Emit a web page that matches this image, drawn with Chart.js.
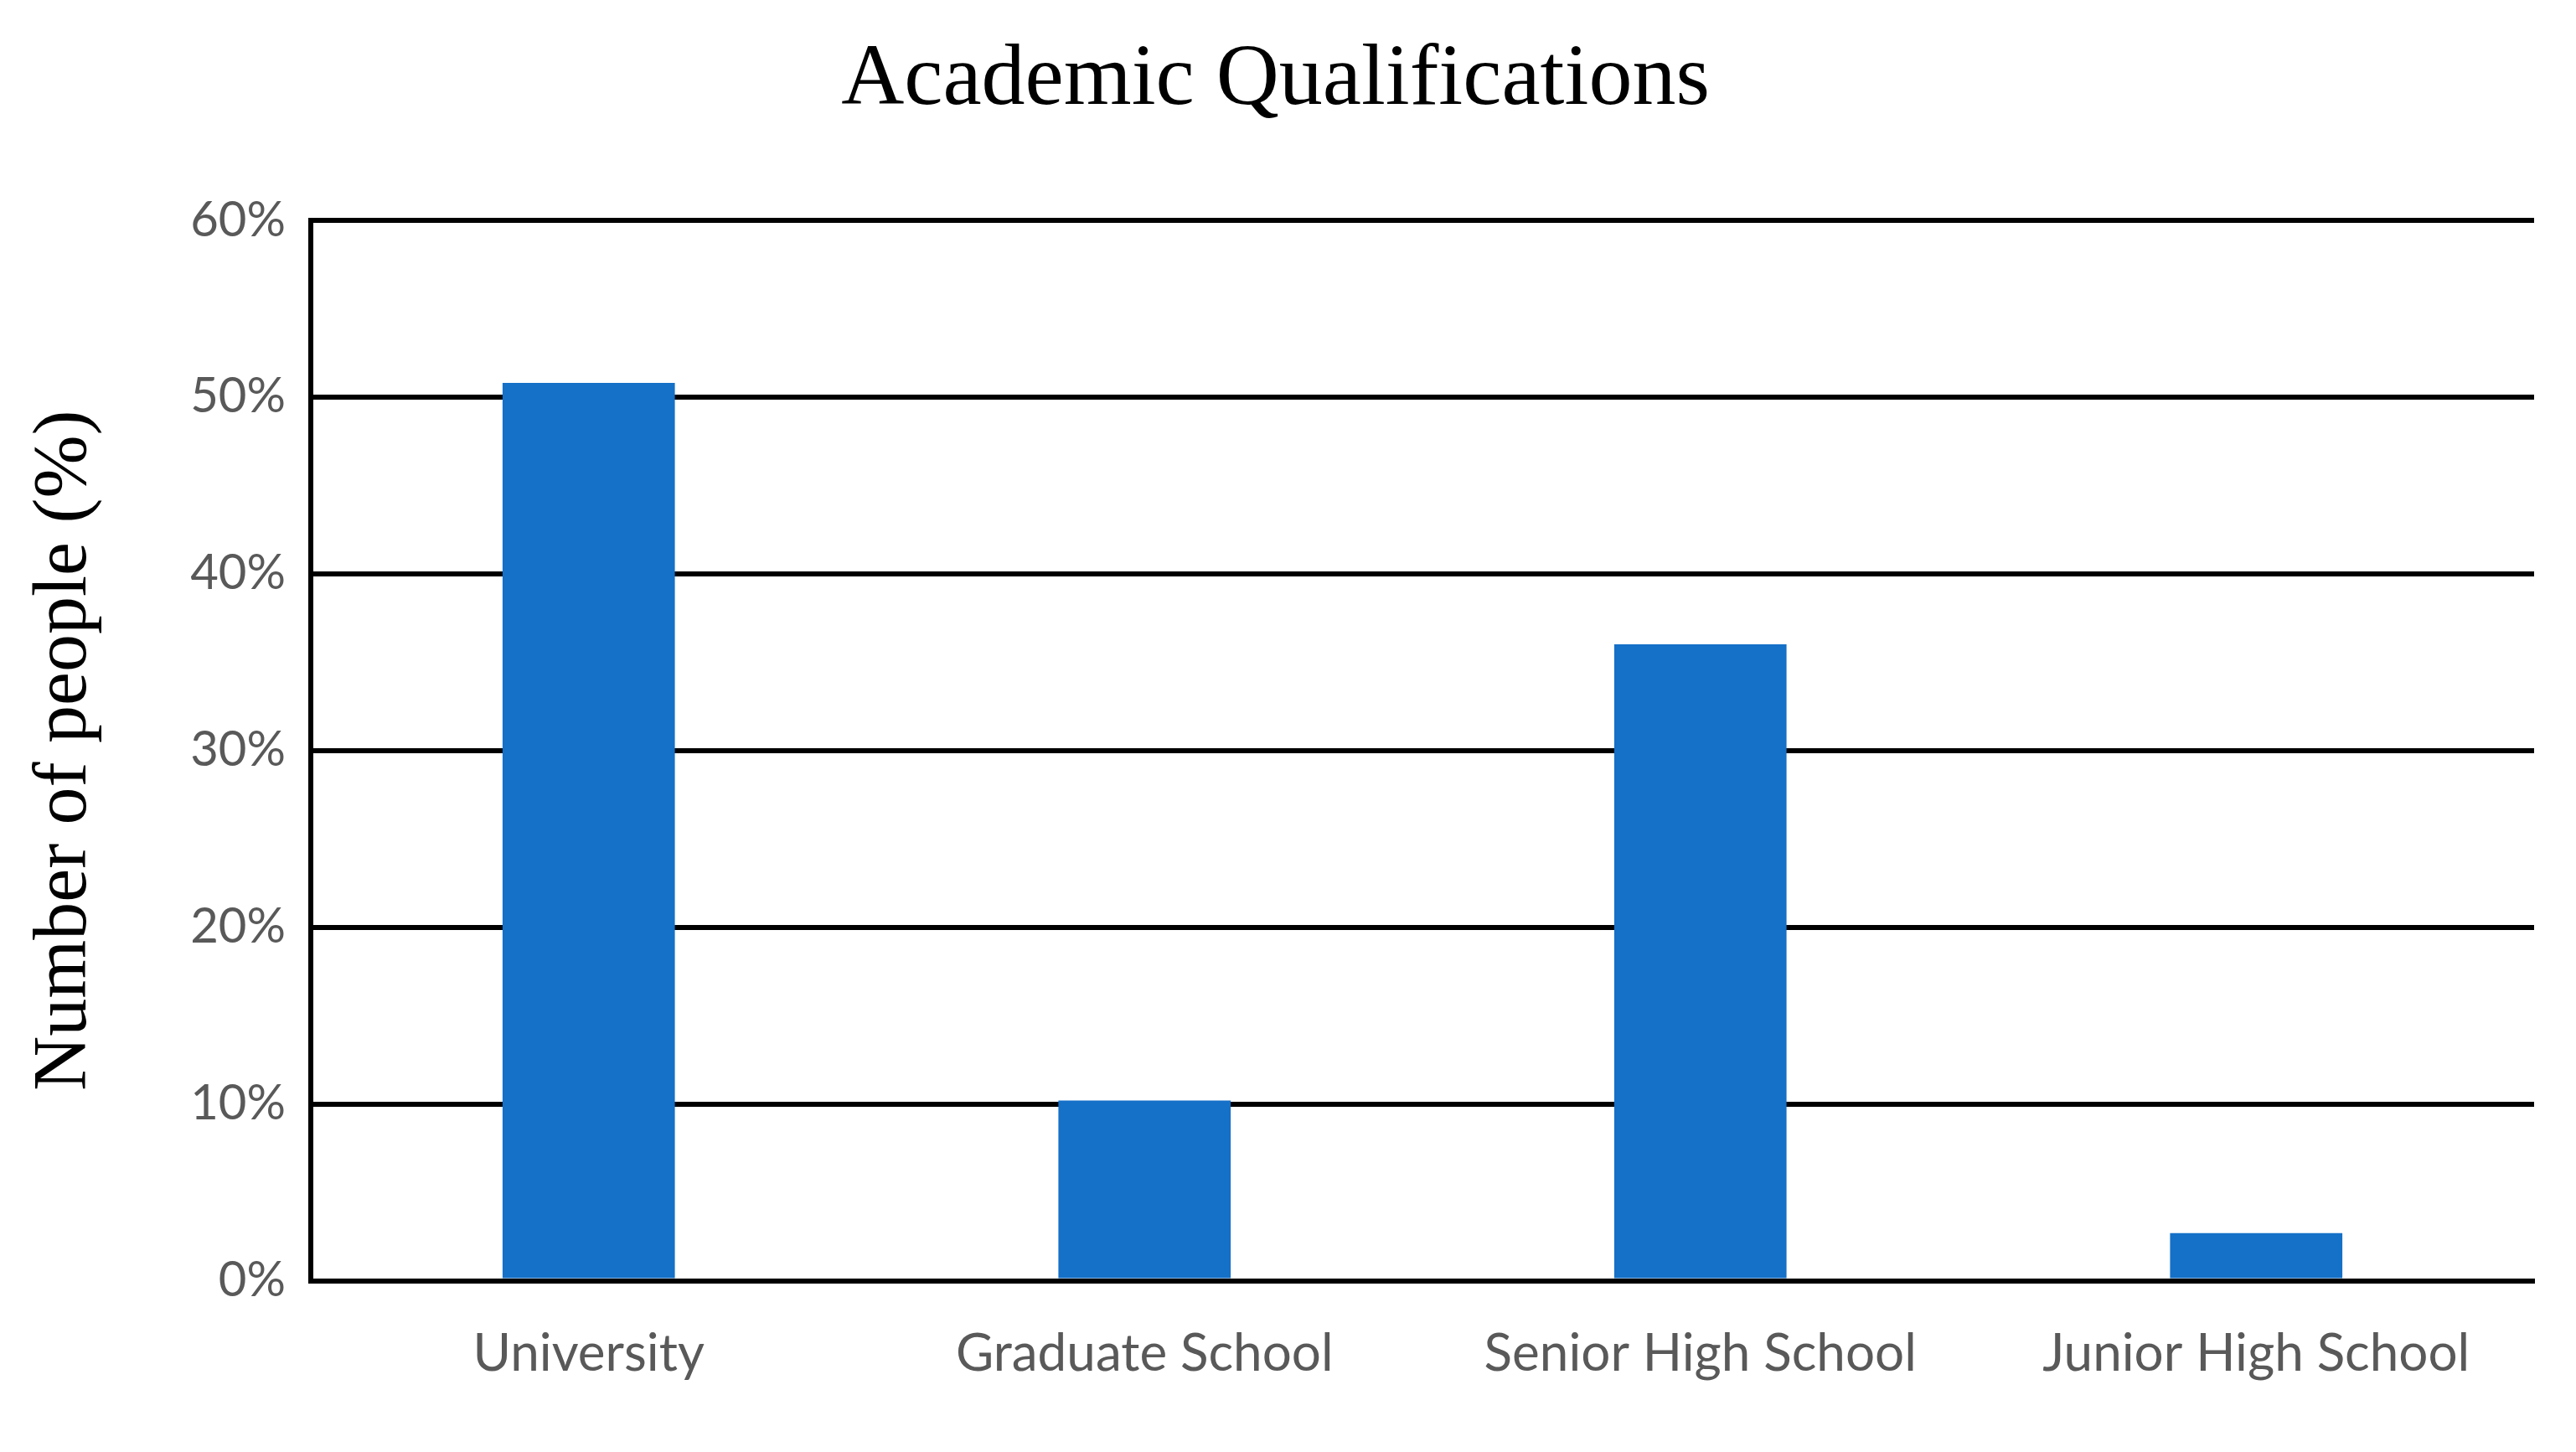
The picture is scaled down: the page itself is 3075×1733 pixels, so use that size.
<!DOCTYPE html>
<html><head><meta charset="utf-8">
<script src="https://cdn.jsdelivr.net/npm/chart.js@4"></script>
<style>html,body{margin:0;padding:0;background:#fff}#w{width:3075px;height:1733px}</style>
</head><body><div id="w"><canvas id="c"></canvas></div>
<script>
const categories = ["University","Graduate School","Senior High School","Junior High School"];
const values = [50.8, 10.2, 36.0, 2.7];
const yTicks = [0,10,20,30,40,50,60];

new Chart(document.getElementById('c'), {
  type: 'bar',
  data: { labels: categories, datasets: [{ data: values, backgroundColor: '#1570C8', barPercentage: 0.31, categoryPercentage: 1 }] },
  options: {
    responsive: true, maintainAspectRatio: false, animation: false,
    layout: { padding: { left: 20, right: 50, top: 14, bottom: 30 } },
    plugins: {
      legend: { display: false }, tooltip: { enabled: false },
      title: { display: true, text: 'Academic Qualifications', color: '#000',
        font: { family: 'Liberation Serif', size: 104, weight: 'normal' }, padding: { top: 20, bottom: 104 } }
    },
    scales: {
      x: {
        grid: { display: false, drawTicks: false },
        border: { display: true, color: '#000', width: 6 },
        ticks: { color: '#595959', font: { family: 'Lato', size: 62 }, padding: 50 }
      },
      y: {
        min: 0, max: 60,
        afterBuildTicks: a => { a.ticks = yTicks.map(v => ({ value: v })); },
        afterFit: a => { a.width = 351; },
        grid: { color: '#000', lineWidth: 6, drawTicks: false },
        border: { display: true, color: '#000', width: 6 },
        ticks: { color: '#595959', font: { family: 'Lato', size: 58 }, padding: 30, callback: v => v + '%' },
        title: { display: true, text: 'Number of people (%)', color: '#000',
          font: { family: 'Liberation Serif', size: 90 }, padding: { bottom: 20 } }
      }
    }
  }
});
</script></body></html>
